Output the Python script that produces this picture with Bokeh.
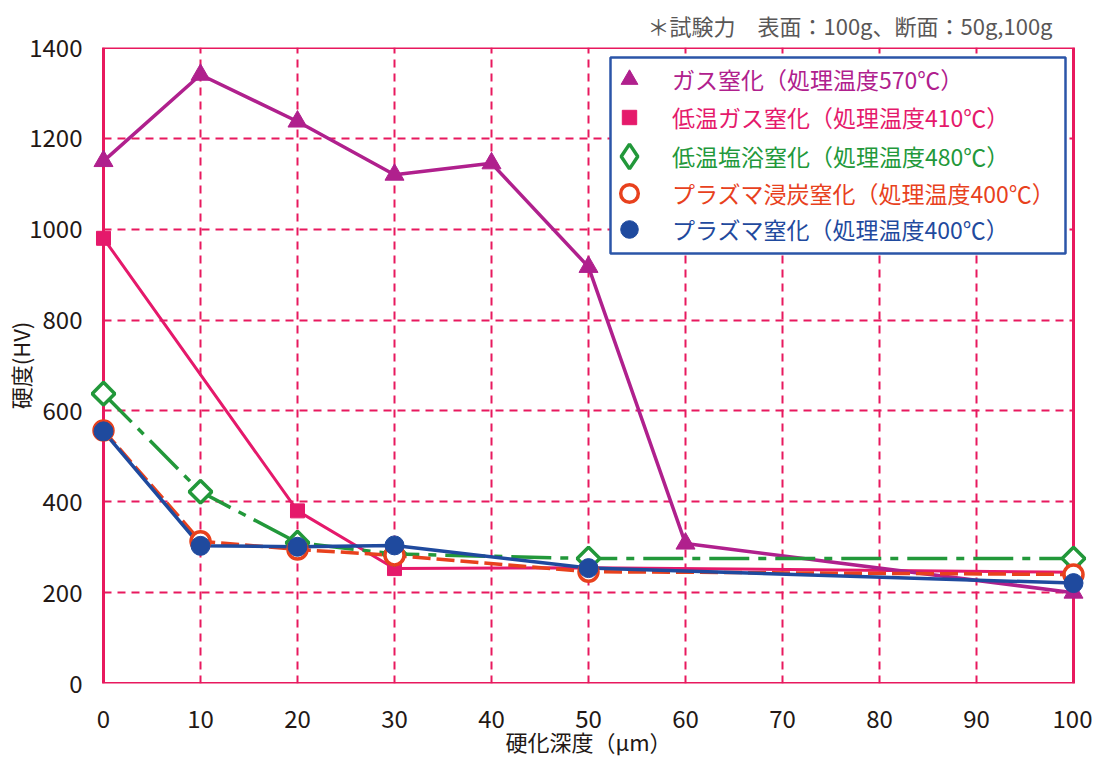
import math
from bokeh.plotting import figure
from bokeh.models import (Range1d, FixedTicker, Legend, LegendItem, Title,
                          BoxAnnotation)
from bokeh.embed import file_html
from bokeh.resources import INLINE

FONT = "Noto Sans CJK JP"

# ---- data ----
depth_gas = [0, 10, 20, 30, 40, 50, 60, 100]
hv_gas = [1150, 1340, 1237, 1120, 1145, 917, 308, 200]

depth_lt_gas = [0, 20, 30, 50, 100]
hv_lt_gas = [980, 380, 253, 255, 245]

depth_salt = [0, 10, 20, 30, 50, 100]
hv_salt = [638, 422, 310, 285, 275, 275]

depth_pcn = [0, 10, 20, 30, 50, 100]
hv_pcn = [557, 313, 295, 282, 246, 240]

depth_pn = [0, 10, 20, 30, 50, 100]
hv_pn = [555, 303, 301, 304, 254, 221]

labels = ["ガス窒化（処理温度570℃）",
          "低温ガス窒化（処理温度410℃）",
          "低温塩浴窒化（処理温度480℃）",
          "プラズマ浸炭窒化（処理温度400℃）",
          "プラズマ窒化（処理温度400℃）"]

x_ticks = [0, 10, 20, 30, 40, 50, 60, 70, 80, 90, 100]
y_ticks = [0, 200, 400, 600, 800, 1000, 1200, 1400]

note = "＊試験力　表面：100g、断面：50g,100g"
x_title = "硬化深度（μm）"
y_title = "硬度(HV)"

C_GAS = "#b0208d"
C_LTG = "#e5196b"
C_SALT = "#22983a"
C_PCN = "#e8411d"
C_PN = "#1f4a9e"
C_GRID = "#e8195e"
C_TEXT = "#231815"

W, H = 1092, 768
PAD = 1.34  # small x padding so end markers are not cut by the frame
p = figure(width=W, height=H, output_backend="svg", toolbar_location=None,
           x_range=Range1d(x_ticks[0] - PAD, x_ticks[-1] + PAD),
           y_range=Range1d(y_ticks[0], y_ticks[-1]),
           min_border_left=90, min_border_right=6, min_border_top=47,
           min_border_bottom=H - 683)

p.outline_line_color = None
p.background_fill_color = "white"

for ax in (p.xaxis[0], p.yaxis[0]):
    ax.axis_line_color = None
    ax.major_tick_line_color = None
    ax.major_tick_in = 0
    ax.major_tick_out = 0
    ax.minor_tick_line_color = None
    ax.minor_tick_in = 0
    ax.minor_tick_out = 0
    ax.major_label_text_font = FONT
    ax.major_label_text_font_size = "24px"
    ax.major_label_text_color = C_TEXT
    ax.axis_label_text_font = FONT
    ax.axis_label_text_font_size = "22px"
    ax.axis_label_text_font_style = "normal"
    ax.axis_label_text_color = C_TEXT

p.xaxis.ticker = FixedTicker(ticks=x_ticks)
p.yaxis.ticker = FixedTicker(ticks=y_ticks)
p.xaxis.major_label_standoff = 26
p.yaxis.major_label_standoff = 8
p.xaxis.axis_label = x_title
p.yaxis.axis_label = y_title
p.xaxis.axis_label_standoff = -6
p.yaxis.axis_label_standoff = -10

p.xgrid.ticker = FixedTicker(ticks=x_ticks)
p.ygrid.ticker = FixedTicker(ticks=y_ticks)
for g in (p.xgrid[0], p.ygrid[0]):
    g.grid_line_color = C_GRID
    g.grid_line_width = 2
    g.grid_line_dash = "8 6"
if "cross_bounds" in p.ygrid[0].properties():
    p.ygrid[0].cross_bounds = (x_ticks[0], x_ticks[-1])
    p.xgrid[0].cross_bounds = (y_ticks[0], y_ticks[-1])

# solid plot frame along the axis limits
p.add_layout(BoxAnnotation(left=x_ticks[0], right=x_ticks[-1],
                           bottom=y_ticks[0], top=y_ticks[-1],
                           fill_alpha=0, line_color=C_GRID, line_alpha=1.0,
                           line_width=3, level="underlay"))

# note above the plot, right aligned
p.add_layout(Title(text=note, align="right", offset=34, standoff=12,
                   vertical_align="middle",
                   text_font=FONT, text_font_size="22px", text_font_style="normal",
                   text_color="#595757"), "above")

# ---- lines ----
p.line(depth_lt_gas, hv_lt_gas, color=C_LTG, line_width=3)
p.line(depth_gas, hv_gas, color=C_GAS, line_width=3.5)
p.line(depth_salt, hv_salt, color=C_SALT, line_width=3.5, line_dash="40 9 8 9")
p.line(depth_pcn, hv_pcn, color=C_PCN, line_width=3.5, line_dash="18 6")
p.line(depth_pn, hv_pn, color=C_PN, line_width=3.5)

# ---- markers ----
r_ltg = p.scatter(depth_lt_gas, hv_lt_gas, marker="square", size=14,
                  fill_color=C_LTG, line_color=C_LTG)
r_gas = p.scatter(depth_gas, hv_gas, marker="triangle", size=19,
                  fill_color=C_GAS, line_color=C_GAS)
# diamond key (used for the legend symbol; hidden beneath the plotted markers)
r_salt_key = p.scatter(depth_salt, hv_salt, marker="diamond", size=18,
                       fill_color="white", line_color=C_SALT, line_width=3.5)
p.scatter(depth_salt, hv_salt, marker="square", size=16, angle=math.pi / 4,
          fill_color="white", line_color=C_SALT, line_width=3.5)
r_pcn = p.scatter(depth_pcn, hv_pcn, marker="circle", size=19,
                  fill_color="white", line_color=C_PCN, line_width=3.5)
r_pn = p.scatter(depth_pn, hv_pn, marker="circle", size=19,
                 fill_color=C_PN, line_color=C_PN)

# ---- legend (one per entry so each label keeps its own colour) ----
box = BoxAnnotation(left=520, right=975, bottom=430, top=626,
                    left_units="screen", right_units="screen",
                    bottom_units="screen", top_units="screen",
                    fill_color="white", fill_alpha=1.0,
                    line_color="#2b55a8", line_alpha=1.0, line_width=2.5,
                    level="annotation")
p.add_layout(box)

entries = [(r_gas, C_GAS, 42), (r_ltg, C_LTG, 36), (r_salt_key, C_SALT, 62),
           (r_pcn, C_PCN, 44), (r_pn, C_PN, 44)]
centers = [604, 566, 527, 490, 454]
mx, tx = 539, 582
for (rend, col, gs), lab, cy in zip(entries, labels, centers):
    half = gs // 2
    lg = Legend(items=[LegendItem(label=lab, renderers=[rend])],
                location=(mx - half, cy - half), orientation="vertical",
                padding=0, margin=0, spacing=0,
                glyph_width=gs, glyph_height=gs, label_standoff=int(tx - (mx + half)),
                border_line_color=None, background_fill_alpha=0,
                label_text_font=FONT, label_text_font_size="23px",
                label_text_color=col, label_height=gs)
    p.add_layout(lg)

open("out.html", "w").write(file_html(p, INLINE))
